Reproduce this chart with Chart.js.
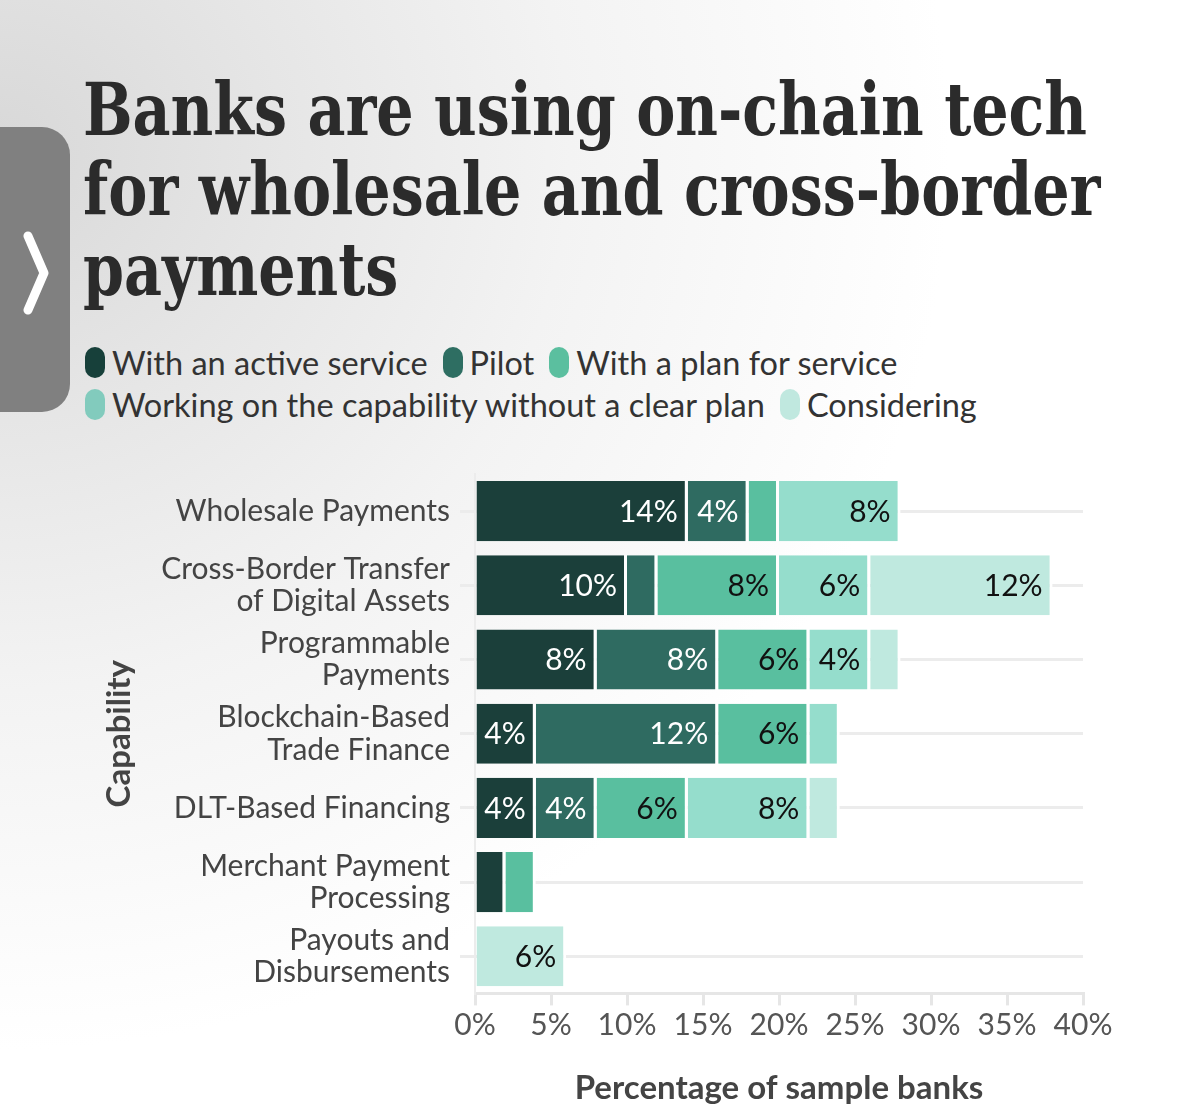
<!DOCTYPE html>
<html>
<head>
<meta charset="utf-8">
<script src="https://cdn.jsdelivr.net/npm/chart.js@4.4.1/dist/chart.umd.min.js"></script>
<style>
  html, body { margin:0; padding:0; }
  body {
    width:1200px; height:1117px; position:relative; overflow:hidden;
    background: radial-gradient(ellipse 950px 900px at 0px 150px, #d8d8d8 0%, #e6e6e6 30%, #f3f3f3 60%, #ffffff 100%);
    font-family: Lato, "Noto Sans", sans-serif;
  }
  #tab {
    position:absolute; left:-30px; top:127px; width:100px; height:285px;
    background:#808080; border-radius:28px;
  }
  #chev { position:absolute; left:18px; top:228px; }
  .tline {
    position:absolute; left:83px; white-space:nowrap;
    font-family:"DejaVu Serif", serif; font-weight:bold; font-size:72px;
    color:#2b2b2b; transform-origin:0 0; line-height:1;
  }
  #legend { position:absolute; left:85px; top:341px; width:1000px; }
  .lrow { display:flex; align-items:center; height:42px; }
  .litem { display:flex; align-items:center; margin-right:15px; }
  .lmark { width:20px; height:31px; border-radius:10px; margin-right:7px; }
  .ltext { font-size:32.5px; color:#333; white-space:nowrap; }
  #wrap { position:absolute; left:0; top:440px; width:1200px; height:677px; }
</style>
</head>
<body>
<div id="tab"></div>
<svg id="chev" width="40" height="90" viewBox="0 0 40 90">
  <polyline points="10,8 26,45 10,82" fill="none" stroke="#ffffff" stroke-width="9" stroke-linecap="round" stroke-linejoin="round"/>
</svg>
<div class="tline" id="t1" style="top:74px">Banks are using on-chain tech</div>
<div class="tline" id="t2" style="top:154px">for wholesale and cross-border</div>
<div class="tline" id="t3" style="top:234px">payments</div>
<div id="legend"></div>
<div id="wrap"><canvas id="c" width="1200" height="677"></canvas></div>
<script>
// ---- data ----
const categories = [
  "Wholesale Payments",
  ["Cross-Border Transfer", "of Digital Assets"],
  ["Programmable", "Payments"],
  ["Blockchain-Based", "Trade Finance"],
  "DLT-Based Financing",
  ["Merchant Payment", "Processing"],
  ["Payouts and", "Disbursements"]
];
const seriesNames = ["With an active service", "Pilot", "With a plan for service",
                     "Working on the capability without a clear plan", "Considering"];
const activeService = [14, 10, 8, 4, 4, 2, 0];
const pilot         = [4, 2, 8, 12, 4, 0, 0];
const planService   = [2, 8, 6, 6, 6, 2, 0];
const workingNoPlan = [8, 6, 4, 2, 8, 0, 0];
const considering   = [0, 12, 2, 0, 2, 0, 6];
const xTicks = [0, 5, 10, 15, 20, 25, 30, 35, 40];

// ---- styles ----
const barColors    = ["#1b3f3a", "#2f6b61", "#59bf9f", "#95ddcc", "#bfe9df"];
const legendColors = ["#17403a", "#2e6e62", "#5bbf9f", "#82cbbd", "#c0e8df"];
const labelColors  = ["#ffffff", "#ffffff", "#111111", "#111111", "#111111"];
const seriesValues = [activeService, pilot, planService, workingNoPlan, considering];

// title fit
(function fitTitle(){
  const t1 = document.getElementById('t1');
  const w = t1.getBoundingClientRect().width;
  const s = 1004 / w;
  ['t1','t2','t3'].forEach(id => {
    document.getElementById(id).style.transform = 'scaleX(' + s + ')';
  });
})();

// legend (HTML)
const rows = [[0,1,2],[3,4]];
const leg = document.getElementById('legend');
rows.forEach(r => {
  const row = document.createElement('div'); row.className = 'lrow';
  r.forEach(i => {
    const it = document.createElement('div'); it.className = 'litem';
    const m = document.createElement('div'); m.className = 'lmark'; m.style.background = legendColors[i];
    const t = document.createElement('span'); t.className = 'ltext'; t.textContent = seriesNames[i];
    it.appendChild(m); it.appendChild(t); row.appendChild(it);
  });
  leg.appendChild(row);
});

const valueLabels = {
  id: 'valueLabels',
  afterDatasetsDraw(chart) {
    const ctx = chart.ctx;
    ctx.save();
    ctx.font = '30px Lato, "Noto Sans", sans-serif';
    ctx.textAlign = 'right';
    ctx.textBaseline = 'middle';
    chart.data.datasets.forEach((ds, di) => {
      const meta = chart.getDatasetMeta(di);
      meta.data.forEach((bar, i) => {
        const v = ds.data[i];
        if (v >= 4) {
          ctx.fillStyle = labelColors[di];
          ctx.fillText(v + '%', bar.x - 10, bar.y + 1);
        }
      });
    });
    ctx.restore();
  }
};

new Chart(document.getElementById('c'), {
  type: 'bar',
  data: {
    labels: categories,
    datasets: seriesNames.map((n, i) => ({
      label: n,
      data: seriesValues[i],
      backgroundColor: barColors[i],
      borderColor: '#ffffff',
      borderWidth: {top:0, bottom:0, left:0, right:3},
      borderSkipped: false,
      barPercentage: 0.81,
      categoryPercentage: 1.0
    }))
  },
  options: {
    indexAxis: 'y',
    responsive: false,
    animation: false,
    devicePixelRatio: 1,
    layout: { padding: { left: 100, right: 117, top: 34, bottom: 9 } },
    plugins: { legend: { display:false }, tooltip: { enabled:false } },
    scales: {
      x: {
        stacked: true, min: 0, max: 40,
        afterBuildTicks: (s) => { s.ticks = xTicks.map(v => ({value: v})); },
        ticks: { callback: v => v + '%', color:'#555', font:{ size:30, family:'Lato', lineHeight:1.2 }, padding: 2, maxRotation:0 },
        grid: { drawOnChartArea:false, drawTicks:true, tickLength:12, color:'#e6e6e6', lineWidth:3 },
        border: { display:true, color:'#e6e6e6', width:3 },
        title: { display:true, text:'Percentage of sample banks', color:'#444',
                 font:{ size:33, weight:'bold', family:'Lato', lineHeight:1.2 }, padding:{ top:23, bottom:0 } }
      },
      y: {
        stacked: true,
        afterFit: (s) => { s.width = 375; s.paddingTop = 0; s.paddingBottom = 0; },
        ticks: { color:'#444', font:{ size:30, family:'Lato', lineHeight:1.08 }, padding: 10 },
        grid: { offset:false, drawOnChartArea:true, drawTicks:true, tickLength:15, color:'#ececec', lineWidth:3 },
        border: { display:true, color:'#ececec', width:2 },
        title: { display:true, text:'Capability', color:'#444',
                 font:{ size:33, weight:'bold', family:'Lato' }, padding:{ top:0, bottom:0 } }
      }
    }
  },
  plugins: [valueLabels]
});
</script>
</body>
</html>
